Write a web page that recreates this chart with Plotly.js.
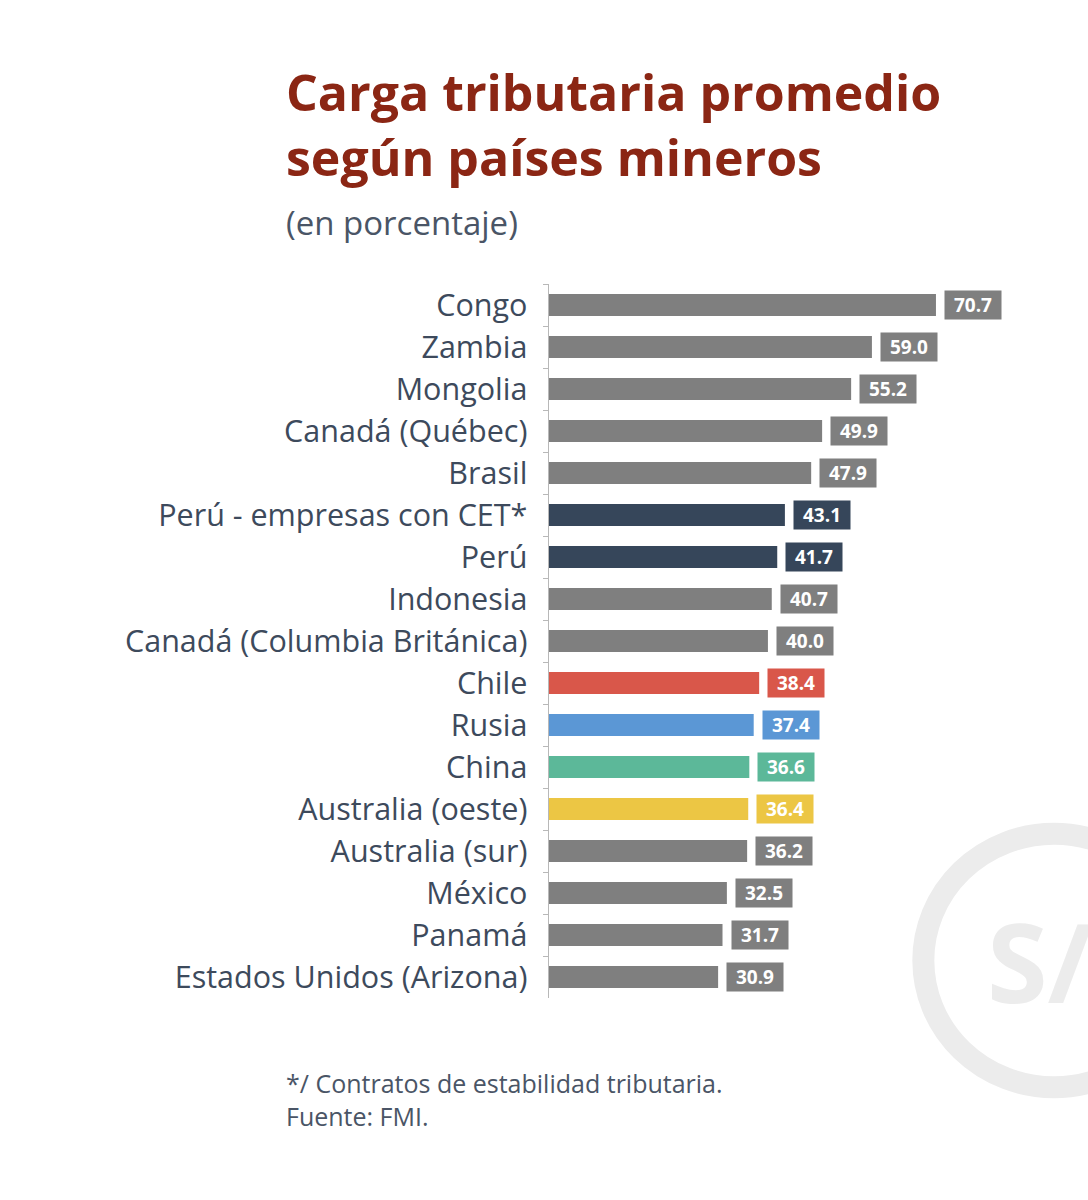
<!DOCTYPE html>
<html>
<head>
<meta charset="utf-8">
<script src="https://cdn.plot.ly/plotly-3.0.0.min.js"></script>
<style>body{margin:0;background:#fff}</style>
</head>
<body>
<div id="chart" style="width:1088px;height:1200px"></div>
<script>
const countries = ["Congo", "Zambia", "Mongolia", "Canadá (Québec)", "Brasil", "Perú - empresas con CET*", "Perú",
  "Indonesia", "Canadá (Columbia Británica)", "Chile", "Rusia", "China", "Australia (oeste)", "Australia (sur)",
  "México", "Panamá", "Estados Unidos (Arizona)"];
const values = [70.7, 59.0, 55.2, 49.9, 47.9, 43.1, 41.7, 40.7, 40.0, 38.4, 37.4, 36.6, 36.4, 36.2, 32.5, 31.7, 30.9];
const barColors = ["#7f7f7f", "#7f7f7f", "#7f7f7f", "#7f7f7f", "#7f7f7f", "#36465a", "#36465a", "#7f7f7f", "#7f7f7f",
  "#d9574a", "#5b97d5", "#5cb899", "#ecc644", "#7f7f7f", "#7f7f7f", "#7f7f7f", "#7f7f7f"];

const labels = values.map((v, i) => ({
  x: v, y: countries[i], xref: "x", yref: "y",
  text: "<b>" + v.toFixed(1) + "</b>", showarrow: false,
  xanchor: "left", xshift: 8, width: 54, height: 26,
  bgcolor: barColors[i], font: { family: "Open Sans", size: 19, color: "#fff" }
}));

const data = [{
  type: "bar", orientation: "h", x: values, y: countries,
  marker: { color: barColors }, width: 0.52, hoverinfo: "none"
}];

const layout = {
  width: 1088, height: 1200,
  margin: { l: 549, r: 88, t: 284, b: 202 },
  paper_bgcolor: "#fff", plot_bgcolor: "rgba(0,0,0,0)",
  showlegend: false,
  xaxis: { range: [0, 82.4], visible: false, fixedrange: true },
  yaxis: {
    autorange: "reversed", showline: true, linecolor: "#b8b8b8", linewidth: 1.5,
    ticks: "outside", tickson: "boundaries", ticklen: 5, tickcolor: "#b8b8b8",
    ticklabelstandoff: 14,
    tickfont: { family: "Open Sans", size: 30.5, color: "#3d4a5c" }
  },
  shapes: [{
    type: "circle", xref: "paper", yref: "paper", layer: "below",
    x0: 0.83, x1: 1.41, y0: -0.125, y1: 0.23, line: { color: "#ececec", width: 22 }
  }],
  annotations: labels.concat([
    { xref: "paper", yref: "paper", x: 0.967, y: 0.053, yanchor: "middle", text: "<b>S/</b>", showarrow: false, xanchor: "left",
      font: { family: "Open Sans", size: 110, color: "#ececec" } },
    { xref: "paper", yref: "paper", x: -0.588, xanchor: "left", y: 1.127, yanchor: "bottom", showarrow: false, align: "left",
      text: "<b>Carga tributaria promedio<br>según países mineros</b>",
      font: { family: "Open Sans", size: 50, color: "#8b2614" } },
    { xref: "paper", yref: "paper", x: -0.588, xanchor: "left", y: 1.052, yanchor: "bottom", showarrow: false,
      text: "(en porcentaje)", font: { family: "Open Sans", size: 33, color: "#4a5566" } },
    { xref: "paper", yref: "paper", x: -0.588, xanchor: "left", y: -0.093, yanchor: "top", showarrow: false, align: "left",
      text: "*/ Contratos de estabilidad tributaria.<br>Fuente: FMI.",
      font: { family: "Open Sans", size: 25, color: "#4a5566" } }
  ])
};

Plotly.newPlot("chart", data, layout, { displayModeBar: false, staticPlot: true });
</script>
</body>
</html>
